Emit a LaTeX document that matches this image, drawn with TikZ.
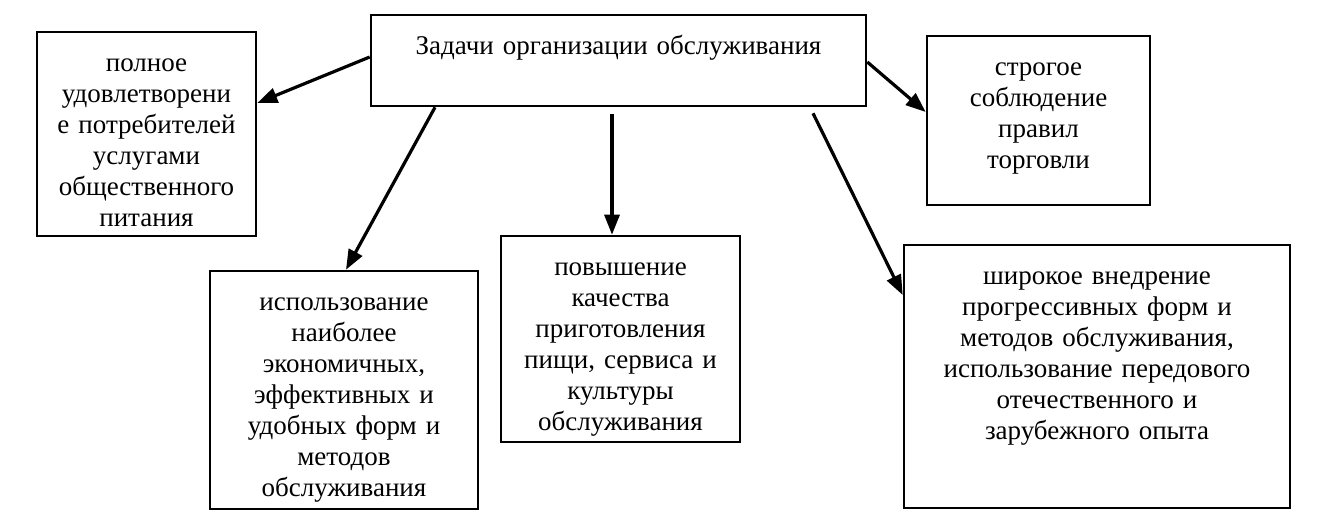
\documentclass[tikz,border=0pt]{standalone}
\usepackage{fontspec}
\setmainfont{Liberation Serif}
\usetikzlibrary{arrows.meta,calc}

\tikzset{
  taskbox/.style={draw, line width=2.6pt, align=center, inner xsep=4pt, inner ysep=0pt,
    text height=39pt, font=\fontsize{27}{31}\selectfont},
  taskarrow/.style={line width=3.2pt, -{Triangle[length=20pt,width=15pt]}}
}

\begin{document}
\begin{tikzpicture}[x=1pt,y=-1pt]
\useasboundingbox (0,0) rectangle (1323,520);

\node[taskbox, text width=487pt, text depth=52pt] (goal) at (618.5,60.5) {Задачи организации обслуживания};
\node[taskbox, text width=211pt, text depth=165pt] (satisfy) at (146.5,134) {полное\\ удовлетворени\\ е потребителей\\ услугами\\ общественного\\ питания};
\node[taskbox, text width=215pt, text depth=130pt] (rules) at (1038.5,120.5) {строгое\\ соблюдение\\ правил\\ торговли};
\node[taskbox, text width=260pt, text depth=199pt] (methods) at (344,390) {использование\\ наиболее\\ экономичных,\\ эффективных и\\ удобных форм и\\ методов\\ обслуживания};
\node[taskbox, text width=231pt, text depth=167pt] (quality) at (620.5,339) {повышение\\ качества\\ приготовления\\ пищи, сервиса и\\ культуры\\ обслуживания};
\node[taskbox, text width=378pt, text depth=224pt] (progress) at (1097,376.5) {широкое внедрение\\ прогрессивных форм и\\ методов обслуживания,\\ использование передового\\ отечественного и\\ зарубежного опыта};

\draw[taskarrow] ($(goal.west)+(0,-3.5)$) to ($(satisfy.east)+(0,-31)$);
\draw[taskarrow] ($(goal.south)+(-183.5,0)$) to ($(methods.north)+(2,0)$);
\draw[taskarrow] ($(goal.south)+(-6.5,7)$) to ($(quality.north)+(-8.5,0)$);
\draw[taskarrow] ($(goal.south)+(194.5,6)$) to ($(progress.west)+(0,-81.5)$);
\draw[taskarrow] ($(goal.east)+(0,1.5)$) to ($(rules.west)+(0,-8.5)$);

\end{tikzpicture}
\end{document}
